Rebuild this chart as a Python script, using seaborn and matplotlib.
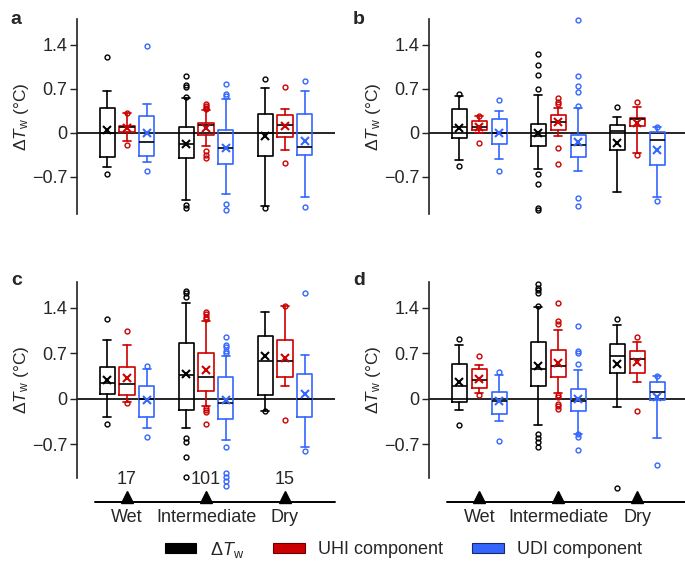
import matplotlib
matplotlib.use("Agg")
import matplotlib.pyplot as plt
from matplotlib.patches import Patch
from matplotlib.lines import Line2D
import seaborn as sns

# order inside each list: Wet (dTw, UHI, UDI), Intermediate (...), Dry (...)
groups = ["Wet", "Intermediate", "Dry"]
components = ["ΔTw", "UHI component", "UDI component"]
counts = [17, 101, 15]

# panel a
q1_a = [-0.38, 0.01, -0.37, -0.40, -0.03, -0.49, -0.37, -0.07, -0.36]
med_a = [0.0, 0.09, -0.15, -0.18, 0.12, -0.25, -0.01, 0.13, -0.23]
q3_a = [0.39, 0.11, 0.27, 0.09, 0.16, 0.05, 0.29, 0.28, 0.30]
lo_a = [-0.54, -0.13, -0.47, -1.07, -0.21, -0.97, -1.16, -0.28, -1.02]
hi_a = [0.67, 0.32, 0.46, 0.55, 0.36, 0.53, 0.71, 0.38, 0.66]
mean_a = [0.04, 0.08, -0.01, -0.18, 0.08, -0.25, -0.05, 0.11, -0.13]
fl_a = [[1.21, -0.65], [0.32, -0.19], [1.38, -0.61],
        [0.90, 0.76, 0.72, 0.56, -1.15, -1.20], [0.46, 0.42, 0.40, 0.37, -0.29, -0.36, -0.41],
        [0.77, 0.62, 0.58, -1.13, -1.23],
        [0.86, -1.19], [0.73, -0.48], [0.82, -1.18]]

# panel b
q1_b = [-0.08, 0.05, -0.18, -0.21, 0.04, -0.39, -0.27, 0.11, -0.51]
med_b = [0.09, 0.09, 0.0, -0.05, 0.17, -0.19, 0.03, 0.22, -0.11]
q3_b = [0.38, 0.18, 0.21, 0.14, 0.28, -0.03, 0.13, 0.24, 0.01]
lo_b = [-0.44, -0.01, -0.42, -0.58, -0.06, -0.61, -0.94, -0.32, -1.03]
hi_b = [0.58, 0.26, 0.35, 0.60, 0.39, 0.40, 0.25, 0.41, 0.09]
mean_b = [0.08, 0.09, -0.01, -0.01, 0.17, -0.15, -0.17, 0.15, -0.28]
fl_b = [[0.62, -0.53], [0.27, -0.17], [0.52, -0.61],
        [1.25, 1.07, 0.91, 0.69, -0.65, -0.81, -1.19, -1.23], [0.55, 0.49, 0.45, -0.24, -0.49],
        [1.80, 0.90, 0.74, 0.64, 0.43, -1.04, -1.17],
        [0.41], [0.49, -0.36], [0.09, -1.09]]

# panel c
q1_c = [0.07, 0.05, -0.28, -0.18, 0.12, -0.31, 0.05, 0.34, -0.28]
med_c = [0.24, 0.22, 0.0, 0.37, 0.34, -0.06, 0.58, 0.58, 0.0]
q3_c = [0.49, 0.48, 0.20, 0.86, 0.70, 0.33, 0.96, 0.90, 0.38]
lo_c = [-0.28, -0.05, -0.45, -0.45, -0.11, -0.64, -0.19, 0.20, -0.75]
hi_c = [0.90, 0.83, 0.46, 1.47, 1.20, 0.66, 1.34, 1.43, 0.67]
mean_c = [0.28, 0.32, -0.02, 0.38, 0.44, -0.02, 0.65, 0.63, 0.07]
fl_c = [[1.22, -0.39], [1.04, -0.07], [0.50, -0.59],
        [1.65, 1.62, 1.57, -0.61, -0.66, -0.89, -1.20],
        [1.34, 1.30, 1.26, 1.23, -0.14, -0.18, -0.21, -0.39],
        [0.95, 0.83, 0.79, 0.74, 0.71, -0.75, -1.15, -1.20, -1.27, -1.35],
        [-0.19], [1.43, -0.33], [1.62, -0.81]]

# panel d
q1_d = [-0.05, 0.16, -0.24, 0.20, 0.33, -0.19, 0.39, 0.39, -0.02]
med_d = [0.19, 0.29, -0.04, 0.45, 0.50, -0.04, 0.65, 0.61, 0.11]
q3_d = [0.53, 0.46, 0.11, 0.87, 0.75, 0.15, 0.84, 0.73, 0.26]
lo_d = [-0.18, 0.09, -0.35, -0.41, 0.09, -0.54, -0.13, 0.25, -0.60]
hi_d = [0.82, 0.52, 0.36, 1.41, 1.05, 0.44, 1.14, 0.87, 0.35]
mean_d = [0.26, 0.30, -0.04, 0.51, 0.55, -0.01, 0.54, 0.56, 0.02]
fl_d = [[0.92, -0.40], [0.66, 0.05], [0.41, -0.65],
        [1.77, 1.71, 1.67, 1.63, 1.42, -0.54, -0.61, -0.66, -0.74],
        [1.47, 1.19, 1.15, 0.06, 0.03, -0.08, -0.12, -0.16],
        [1.12, 0.74, 0.70, 0.54, -0.55, -0.59, -0.79],
        [1.22, -1.37], [0.95, -0.19], [0.35, -1.02]]

colors = ["#000000", "#cc0000", "#3366ff"]
edge_dark = ["#000000", "#6a0000", "#1a2a66"]

sns.set_theme(style="ticks")
plt.rcParams["font.family"] = ["Liberation Sans", "DejaVu Sans"]
plt.rcParams["mathtext.fontset"] = "custom"
plt.rcParams["mathtext.rm"] = "Liberation Sans"
plt.rcParams["mathtext.it"] = "Liberation Sans:italic"

fig = plt.figure(figsize=(6.85, 5.64), dpi=100)
W, H = 685, 564


def px_axes(left, top, right, bottom):
    return fig.add_axes([left / W, 1 - bottom / H, (right - left) / W, (bottom - top) / H])


offsets = [-0.253, 0.0, 0.253]


def draw_panel(ax, q1, med, q3, lo, hi, mean, fl, ylim):
    for c in range(3):
        stats, pos = [], []
        for g in range(3):
            k = g * 3 + c
            stats.append(dict(q1=q1[k], med=med[k], q3=q3[k], whislo=lo[k],
                              whishi=hi[k], mean=mean[k], fliers=fl[k]))
            pos.append(g + offsets[c])
        col = colors[c]
        ax.bxp(stats, positions=pos, widths=0.19, capwidths=0.1, showmeans=True,
               manage_ticks=False, patch_artist=False,
               boxprops=dict(color=col, linewidth=1.2),
               whiskerprops=dict(color=col, linewidth=1.2),
               capprops=dict(color=col, linewidth=1.2),
               medianprops=dict(color="black", linewidth=1.2),
               meanprops=dict(marker="x", markeredgecolor=col, markersize=5.5,
                              markeredgewidth=1.5),
               flierprops=dict(marker="o", markerfacecolor="none", markeredgecolor=col,
                               markersize=3.5, markeredgewidth=1.0, clip_on=False))
    ax.axhline(0, color="black", linewidth=1.2, zorder=0.5)
    ax.set_xlim(-0.633, 2.633)
    ax.set_ylim(*ylim)
    ax.set_yticks([-0.7, 0, 0.7, 1.4])
    ax.set_yticklabels(["\u22120.7", "0", "0.7", "1.4"])
    ax.set_xticks([])
    ax.tick_params(axis="y", length=5, width=1, labelsize=13, pad=2, color="#222222")
    ax.set_ylabel("Δ$T_{\\rm w}$ (°C)", fontsize=12.5, labelpad=1)
    sns.despine(ax=ax, bottom=True)
    ax.spines["left"].set_linewidth(1.2)
    ax.spines["left"].set_color("#222222")
    ax.set_facecolor("none")


def draw_groups(ax, with_counts):
    tr = ax.get_xaxis_transform()
    xs = list(range(len(groups)))
    if with_counts:
        for x, n in zip(xs, counts):
            ax.text(x, -0.004, str(n), transform=tr, ha="center", va="center", fontsize=13)
    ax.plot(xs, [-0.095] * 3, linestyle="none", marker="^", markersize=9,
            color="black", transform=tr, clip_on=False)
    ax.add_line(Line2D([-0.41, 2.633], [-0.122, -0.122], color="black", linewidth=1.4,
                       transform=tr, clip_on=False))
    for x, g in zip(xs, groups):
        ax.text(x, -0.197, g, transform=tr, ha="center", va="center", fontsize=13)


ax_a = px_axes(77, 19, 335, 214)
ax_b = px_axes(429.3, 19, 687.3, 214)
ax_c = px_axes(77, 281.7, 335, 478.3)
ax_d = px_axes(429.3, 281.7, 687.3, 478.3)

draw_panel(ax_a, q1_a, med_a, q3_a, lo_a, hi_a, mean_a, fl_a, (-1.293, 1.808))
draw_panel(ax_b, q1_b, med_b, q3_b, lo_b, hi_b, mean_b, fl_b, (-1.293, 1.808))
draw_panel(ax_c, q1_c, med_c, q3_c, lo_c, hi_c, mean_c, fl_c, (-1.225, 1.80))
draw_panel(ax_d, q1_d, med_d, q3_d, lo_d, hi_d, mean_d, fl_d, (-1.225, 1.80))

draw_groups(ax_c, True)
draw_groups(ax_d, False)

for lab, x, y in [("a", 16, 24), ("b", 359, 24), ("c", 17, 285), ("d", 359, 285)]:
    fig.text(x / W, 1 - y / H, lab, fontsize=14, fontweight="bold", ha="center", va="baseline")

handles = [Patch(facecolor=colors[i], edgecolor=edge_dark[i], linewidth=0.8) for i in range(3)]
labels = ["Δ$T_{\\rm w}$", "UHI component", "UDI component"]
fig.legend(handles, labels, loc="center", bbox_to_anchor=(403.5 / W, 1 - 549.5 / H),
           ncol=3, frameon=False, fontsize=13, handlelength=1.75, handleheight=0.45,
           handletextpad=0.75, columnspacing=1.6, borderpad=0)

fig.savefig("out.png", dpi=100)
